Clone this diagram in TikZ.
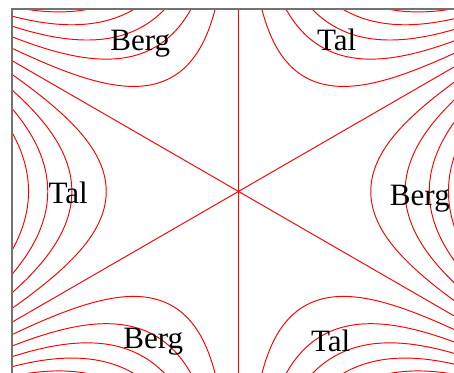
\documentclass[tikz,border=0pt]{standalone}
\usepackage{fontspec}
\setmainfont{Liberation Serif}

\begin{document}
\begin{tikzpicture}[x=132pt, y=132pt,
      hoehe/.style={red, line width=0.95pt},
      rahmen/.style={draw=black!55, line width=1.2pt},
      marke/.style={font=\fontsize{31}{36}\selectfont, anchor=base, inner sep=0pt}]
    \useasboundingbox (-1.803,-1.371) rectangle (1.629,1.447);
    % Hoehenlinien von x^3 - 3 x y^2
    \begin{scope}
      \clip (-1.712,-1.379) rectangle (1.712,1.379);
      \foreach \w in {0,60,...,300}
        \foreach \k in {1,...,5}
          \draw[hoehe] plot[domain=-29.7:29.7, samples=200]
            ({\w+\x}:{pow(\k/cos(3*\x),0.333333)});
      \foreach \w in {30,90,150}
        \draw[hoehe] (\w:3) -- (\w+180:3);
    \end{scope}
    \draw[rahmen] (-1.712,-1.379) rectangle (1.712,1.379);
    \node[marke] (berg1) at (-0.742,1.068) {Berg};
    \node[marke] (tal1) at (0.742,1.068) {Tal};
    \node[marke] (tal2) at (-1.288,-0.091) {Tal};
    \node[marke] (berg2) at (1.371,-0.106) {Berg};
    \node[marke] (berg3) at (-0.644,-1.189) {Berg};
    \node[marke] (tal3) at (0.697,-1.212) {Tal};
  \end{tikzpicture}
\end{document}
